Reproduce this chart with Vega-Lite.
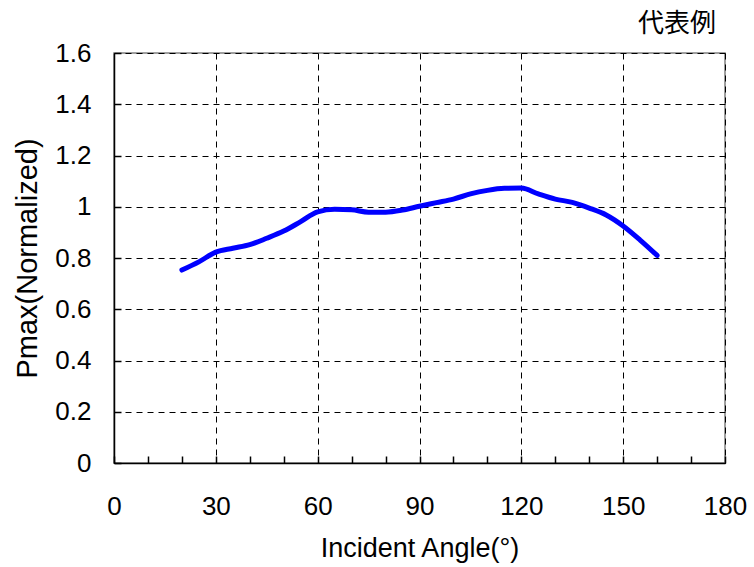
{
  "$schema": "https://vega.github.io/schema/vega-lite/v6.json",
  "autosize": {"type": "none"},
  "width": 611,
  "height": 410,
  "padding": {"left": 114, "top": 53, "right": 29, "bottom": 104},
  "background": "white",
  "config": {
    "font": "Liberation Sans",
    "view": {"stroke": "#808080", "strokeWidth": 1.5}
  },
  "title": {
    "text": "代表例",
    "anchor": "end",
    "orient": "top",
    "frame": "group",
    "font": "Noto Sans CJK JP",
    "fontSize": 26,
    "fontWeight": "normal",
    "color": "#000000",
    "dx": -9,
    "offset": 3
  },
  "data": {
    "values": [
      {"angle": 20, "pmax": 0.753},
      {"angle": 25, "pmax": 0.785},
      {"angle": 30, "pmax": 0.823},
      {"angle": 35, "pmax": 0.838},
      {"angle": 40, "pmax": 0.852},
      {"angle": 45, "pmax": 0.877},
      {"angle": 50, "pmax": 0.905},
      {"angle": 55, "pmax": 0.942},
      {"angle": 60, "pmax": 0.98},
      {"angle": 65, "pmax": 0.99},
      {"angle": 70, "pmax": 0.988},
      {"angle": 75, "pmax": 0.979},
      {"angle": 80, "pmax": 0.979},
      {"angle": 85, "pmax": 0.987},
      {"angle": 90, "pmax": 1.002},
      {"angle": 95, "pmax": 1.016},
      {"angle": 100, "pmax": 1.03},
      {"angle": 105, "pmax": 1.05},
      {"angle": 110, "pmax": 1.064},
      {"angle": 115, "pmax": 1.072},
      {"angle": 120, "pmax": 1.073},
      {"angle": 125, "pmax": 1.05},
      {"angle": 130, "pmax": 1.03},
      {"angle": 135, "pmax": 1.017},
      {"angle": 140, "pmax": 0.995},
      {"angle": 145, "pmax": 0.968},
      {"angle": 150, "pmax": 0.925},
      {"angle": 155, "pmax": 0.87},
      {"angle": 160, "pmax": 0.81}
    ]
  },
  "mark": {"type": "line", "color": "#0000ff", "strokeWidth": 5, "strokeCap": "round", "strokeJoin": "round", "interpolate": "monotone"},
  "encoding": {
    "x": {
      "field": "angle",
      "type": "quantitative",
      "scale": {"domain": [0, 180], "nice": false, "zero": false},
      "axis": {
        "title": "Incident Angle(°)",
        "values": [0, 10, 20, 30, 40, 50, 60, 70, 80, 90, 100, 110, 120, 130, 140, 150, 160, 170, 180],
        "labelExpr": "datum.value % 30 === 0 ? datum.label : ''",
        "labelFontSize": 26,
        "labelColor": "#000000",
        "labelPadding": 37,
        "labelFlush": false,
        "labelOverlap": false,
        "tickSize": -7,
        "tickColor": "#000000",
        "tickWidth": 1.5,
        "domainColor": "#000000",
        "domainWidth": 1.5,
        "grid": true,
        "gridColor": "#000000",
        "gridWidth": 1,
        "gridDash": [6, 5],
        "gridOpacity": {"condition": {"test": "datum.value % 30 === 0", "value": 1}, "value": 0},
        "titleFontSize": 27,
        "titleFontWeight": "normal",
        "titleColor": "#000000",
        "titlePadding": 16
      }
    },
    "y": {
      "field": "pmax",
      "type": "quantitative",
      "scale": {"domain": [0, 1.6], "nice": false, "zero": true},
      "axis": {
        "title": "Pmax(Normalized)",
        "values": [0, 0.2, 0.4, 0.6, 0.8, 1, 1.2, 1.4, 1.6],
        "format": "~g",
        "labelFontSize": 26,
        "labelColor": "#000000",
        "labelPadding": 30,
        "labelFlush": false,
        "labelOverlap": false,
        "tickSize": -7,
        "tickColor": "#000000",
        "tickWidth": 1.5,
        "domainColor": "#000000",
        "domainWidth": 1.5,
        "grid": true,
        "gridColor": "#000000",
        "gridWidth": 1,
        "gridDash": [6, 5],
        "titleFontSize": 29,
        "titleFontWeight": "normal",
        "titleColor": "#000000",
        "titlePadding": 12
      }
    }
  }
}
